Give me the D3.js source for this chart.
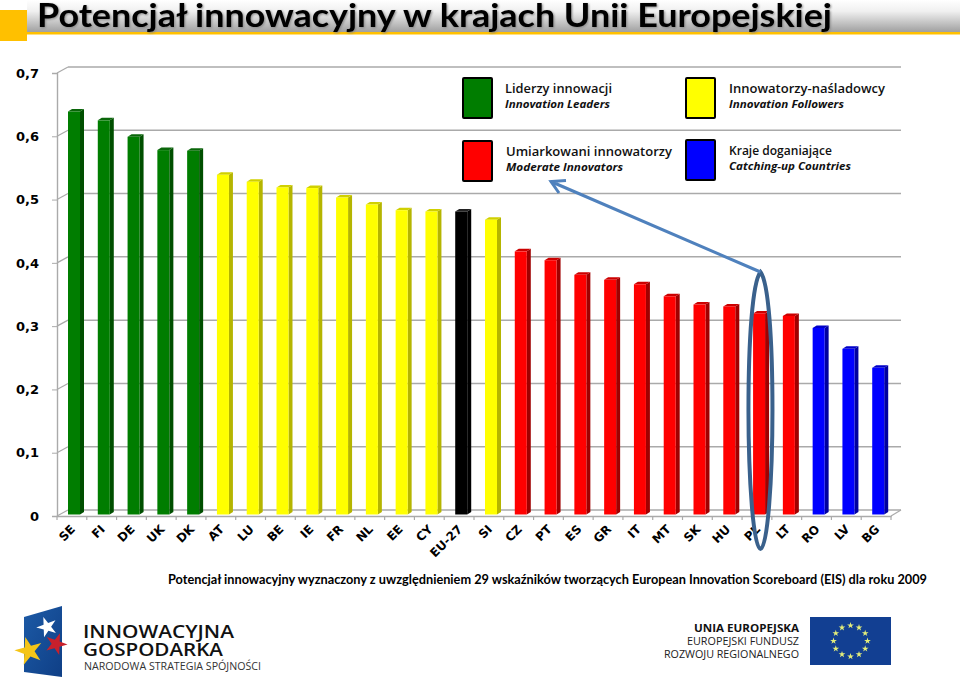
<!DOCTYPE html>
<html><head><meta charset="utf-8">
<script src="https://d3js.org/d3.v7.min.js"></script>
<style>
html,body{margin:0;padding:0;background:#fff;overflow:hidden}
svg{display:block}
text{font-family:"DejaVu Sans",sans-serif}
</style></head><body>
<svg id="c" width="960" height="679"></svg>
<script>
const titleText = "Potencjał innowacyjny w krajach Unii Europejskiej";
const footnote = "Potencjał innowacyjny wyznaczony z uwzględnieniem 29 wskaźników tworzących European Innovation Scoreboard (EIS) dla roku 2009";
const categories = ["SE","FI","DE","UK","DK","AT","LU","BE","IE","FR","NL","EE","CY","EU-27","SI","CZ","PT","ES","GR","IT","MT","SK","HU","PL","LT","RO","LV","BG"];
const values = [0.636,0.622,0.596,0.575,0.574,0.536,0.525,0.516,0.515,0.500,0.489,0.480,0.478,0.478,0.465,0.415,0.401,0.378,0.370,0.363,0.344,0.331,0.328,0.317,0.313,0.294,0.261,0.231];
const groups = ["L","L","L","L","L","F","F","F","F","F","F","F","F","E","F","M","M","M","M","M","M","M","M","M","M","C","C","C"];
const yTicks = [0,0.1,0.2,0.3,0.4,0.5,0.6,0.7];
const legendKeys = ["L","F","M","C"];
const legendPl = ["Liderzy innowacji","Innowatorzy-naśladowcy","Umiarkowani innowatorzy","Kraje doganiające"];
const legendEn = ["Innovation Leaders","Innovation Followers","Moderate Innovators","Catching-up Countries"];
const front = {L:"#007d00",F:"#ffff00",M:"#ff0000",C:"#0000ff",E:"#000000"};
const side  = {L:"#004f00",F:"#b5b500",M:"#a00000",C:"#0000a0",E:"#000000"};
const cap   = {L:"#0a660a",F:"#d0d000",M:"#cc0000",C:"#0000c8",E:"#222222"};

const svg = d3.select("#c");
const defs = svg.append("defs");
const g2 = defs.append("linearGradient").attr("id","head").attr("x1",0).attr("x2",0).attr("y1",0).attr("y2",1);
g2.append("stop").attr("offset",0).attr("stop-color","#ffffff");
g2.append("stop").attr("offset",0.35).attr("stop-color","#f0f0f0");
g2.append("stop").attr("offset",1).attr("stop-color","#a0a0a0");
const g3 = defs.append("linearGradient").attr("id","flag").attr("x1",0).attr("x2",1).attr("y1",0).attr("y2",1);
g3.append("stop").attr("offset",0).attr("stop-color","#1c5aa6");
g3.append("stop").attr("offset",1).attr("stop-color","#0f3f86");

/* header */
svg.append("rect").attr("x",27).attr("y",0).attr("width",933).attr("height",32).attr("fill","url(#head)");
svg.append("rect").attr("x",27).attr("y",32).attr("width",933).attr("height",2.5).attr("fill","#ffc000");
svg.append("rect").attr("x",0).attr("y",10).attr("width",27).attr("height",31).attr("fill","#ffc000");
svg.append("text").attr("x",37).attr("y",26.5)
  .attr("textLength",795).attr("lengthAdjust","spacingAndGlyphs")
  .style("font-family","Lato,sans-serif").style("font-weight",700).style("font-size","32px")
  .style("filter","drop-shadow(1px 1px 1px #888)").attr("fill","#000").text(titleText);

/* scales: front plane of the 3D chart */
const x = d3.scaleBand().domain(categories).range([57,891]);
const y = d3.scaleLinear().domain([0,0.7]).range([516,73]);
const dx = 11, dy = 6;
const grey = "#aaaaaa";

/* back-wall grid */
const grid = svg.append("g");
grid.selectAll("g").data(yTicks).join("g").each(function(t){
  const s = d3.select(this);
  s.append("line").attr("x1",57).attr("y1",y(t)).attr("x2",57+dx).attr("y2",y(t)-dy).attr("stroke",grey).attr("stroke-width",1.2);
  s.append("line").attr("x1",57+dx).attr("y1",y(t)-dy).attr("x2",891+10).attr("y2",y(t)-dy).attr("stroke",grey).attr("stroke-width",1.5);
});
grid.append("line").attr("x1",891).attr("y1",y(0)).attr("x2",901).attr("y2",y(0)-dy).attr("stroke",grey).attr("stroke-width",1.2);

/* axes */
const yAxis = svg.append("g").attr("transform","translate(57,0)")
  .call(d3.axisLeft(y).tickValues(yTicks).tickSize(5).tickPadding(13)
    .tickFormat(d=> d===0 ? "0" : d3.format(".1f")(d).replace(".",",")));
yAxis.select(".domain").attr("stroke",grey).attr("stroke-width",1.4);
yAxis.selectAll(".tick line").attr("stroke",grey);
yAxis.selectAll(".tick text").attr("fill","#000").style("font-family","'DejaVu Sans',sans-serif")
  .style("font-weight",700).style("font-size","13px");

const xAxis = svg.append("g").attr("transform",`translate(0,${y(0)})`)
  .call(d3.axisBottom(x).tickSize(0).tickFormat(""));
xAxis.select(".domain").attr("stroke",grey).attr("stroke-width",1.5);
xAxis.selectAll(".tick").remove();
svg.append("g").selectAll("line").data(categories.concat(["_end"])).join("line")
  .attr("x1",d=> d==="_end" ? x.range()[1] : x(d)).attr("x2",d=> d==="_end" ? x.range()[1] : x(d))
  .attr("y1",y(0)).attr("y2",y(0)+4).attr("stroke",grey).attr("stroke-width",1.2);
/* category labels, rotated 45 degrees */
const c45 = Math.SQRT1_2;
svg.append("g").selectAll("text").data(categories).join("text")
  .attr("text-anchor","end")
  .attr("transform",d=>`matrix(${c45},${-c45},${c45},${c45},${x(d)+x.bandwidth()/2+4},${y(0)+14})`)
  .attr("fill","#000").style("font-family","'DejaVu Sans',sans-serif").style("font-weight",700).style("font-size","12px")
  .text(d=>d);

/* 3D bars */
const bw = 12, bs = 4, bd = 2.5, inset = 11, base = 1.5;
const bars = svg.append("g").selectAll("g").data(categories.map((c,i)=>({c,v:values[i],g:groups[i]}))).join("g");
bars.each(function(d){
  const s = d3.select(this), l = x(d.c)+inset, r = l+bw, t = y(d.v)-base-0.5, b = y(0)-base;
  s.append("path").attr("d",`M${r},${t}L${r+bs},${t-bd}L${r+bs},${b-bd}L${r},${b}Z`).attr("fill",side[d.g]);
  s.append("path").attr("d",`M${l},${t}L${l+bs},${t-bd}L${r+bs},${t-bd}L${r},${t}Z`).attr("fill",cap[d.g]);
  s.append("rect").attr("x",l).attr("y",t).attr("width",bw).attr("height",b-t).attr("fill",front[d.g]);
});

/* legend */
const lx = [463,686,463,686], ly = [78,78,141,140];
const tx = [505,729,506,729], pw = [107,156,166,103], ew = [105,115,117,122];
const lg = svg.append("g").selectAll("g").data(legendKeys).join("g");
lg.append("rect").attr("x",(d,i)=>lx[i]).attr("y",(d,i)=>ly[i]).attr("width",29).attr("height",40)
  .attr("fill",d=>front[d]).attr("stroke","#000").attr("stroke-width",2).attr("rx",1);
lg.append("text").attr("x",(d,i)=>tx[i]).attr("y",(d,i)=>ly[i]+15).text((d,i)=>legendPl[i])
  .attr("textLength",(d,i)=>pw[i]).attr("lengthAdjust","spacingAndGlyphs")
  .style("font-size","12px").style("font-weight",600).style("font-family","'Open Sans',sans-serif").attr("fill","#111");
lg.append("text").attr("x",(d,i)=>tx[i]).attr("y",(d,i)=>ly[i]+30).text((d,i)=>legendEn[i])
  .attr("textLength",(d,i)=>ew[i]).attr("lengthAdjust","spacingAndGlyphs")
  .style("font-size","10.5px").style("font-weight",700).style("font-style","italic").style("font-family","'Open Sans',sans-serif").attr("fill","#111");

/* annotation around PL + arrow to legend */
const pl = x("PL") + x.bandwidth()/2 + 3.5;
svg.append("path").attr("fill","none").attr("stroke","#3a618c").attr("stroke-width",4)
  .attr("d",`M${pl},272C${pl-8},282 ${pl-12},340 ${pl-12},410C${pl-12},480 ${pl-7},549 ${pl},549C${pl+7},549 ${pl+12},480 ${pl+12},410C${pl+12},340 ${pl+8},282 ${pl},272Z`);
svg.append("path").attr("fill","none").attr("stroke","#4f81bd").attr("stroke-width",3)
  .attr("d",`M${pl},272L552,182M566,180.5L551,181.5L559,193`);

/* footnote */
svg.append("text").attr("x",168).attr("y",584).attr("textLength",759).attr("lengthAdjust","spacingAndGlyphs")
  .style("font-family","Lato,sans-serif").style("font-weight",700).style("font-size","13px").attr("fill","#000").text(footnote);

/* logos */
svg.append("path").attr("d","M24,617L62,606L62,677L24,672Z").attr("fill","url(#flag)");
const star = d3.symbol().type(d3.symbolStar);
[[47,627,130,"#ffffff",-20],[56,644,150,"#c8202c",20],[29,651,240,"#f5c518",-15]].forEach(([a,b,sz,col,rot])=>{
  svg.append("path").attr("d",star.size(sz)()).attr("transform",`translate(${a},${b}) rotate(${rot})`).attr("fill",col);
});
[["INNOWACYJNA",83,637.5,151,"18px",600,"#111"],["GOSPODARKA",83,656,140,"18px",600,"#111"],["NARODOWA STRATEGIA SPÓJNOŚCI",84,670,177,"10px",400,"#333"]]
.forEach(([s,a,b,w,f,fw,col])=>{
  svg.append("text").attr("x",a).attr("y",b).attr("textLength",w).attr("lengthAdjust","spacingAndGlyphs")
   .style("font-family","'Open Sans',sans-serif").style("font-size",f).style("font-weight",fw).attr("fill",col).text(s);
});
[["UNIA EUROPEJSKA",694,632,105,700,"#111"],["EUROPEJSKI FUNDUSZ",687,645,112,400,"#222"],["ROZWOJU REGIONALNEGO",664,657.5,135,400,"#222"]]
.forEach(([s,a,b,w,fw,col])=>{
  svg.append("text").attr("x",a).attr("y",b).attr("textLength",w).attr("lengthAdjust","spacingAndGlyphs")
   .style("font-family","'Open Sans',sans-serif").style("font-size","10.5px").style("font-weight",fw).attr("fill",col).text(s);
});
svg.append("rect").attr("x",810).attr("y",617).attr("width",81).attr("height",48).attr("fill","#123f92");
d3.range(12).forEach(i=>{
  const a = i*Math.PI/6;
  svg.append("path").attr("d",star.size(14)()).attr("transform",`translate(${850.5+17*Math.sin(a)},${641-15.5*Math.cos(a)})`).attr("fill","#e4ee7a");
});
</script></body></html>
